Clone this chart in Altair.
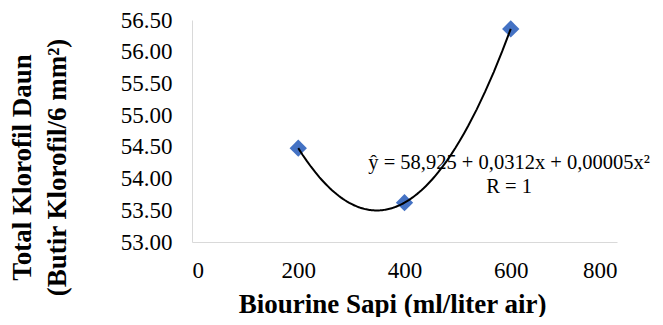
import altair as alt
import pandas as pd

dose = [200, 400, 600]
klorofil = [54.48, 53.62, 56.36]

eq_text = ["ŷ = 58,925 + 0,0312x + 0,00005x²", "R = 1"]

df = pd.DataFrame({"dose": dose, "klorofil": klorofil})
ann = pd.DataFrame({"x": [597], "y": [54.25], "t": ["\n".join(eq_text)]})

FONT = "Liberation Serif"

xs = alt.Scale(domain=[0, 800])
ys = alt.Scale(domain=[53.0, 56.5])

xaxis = alt.Axis(
    values=[0, 200, 400, 600, 800], grid=False, ticks=False,
    domainColor="#D9D9D9", labelFont=FONT, labelFontSize=23, labelColor="#000",
    labelPadding=17, labelOverlap=False,
    title="Biourine Sapi (ml/liter air)", titleFont=FONT,
    titleFontSize=27, titleFontWeight="bold", titleColor="#000",
    titleX=200, titleY=62, titleBaseline="middle",
)
yaxis = alt.Axis(
    values=[53.0, 53.5, 54.0, 54.5, 55.0, 55.5, 56.0, 56.5], format=".2f",
    grid=False, ticks=False, domainColor="#D9D9D9", labelFont=FONT,
    labelFontSize=23, labelColor="#000", labelPadding=20, labelOverlap=False,
    labelBound=False, labelFlush=False,
    title=["Total Klorofil Daun", "(Butir Klorofil/6 mm²)"], titleFont=FONT,
    titleFontSize=27, titleFontWeight="bold", titleColor="#000",
    titleAngle=-90, titleX=-170, titleY=147, titleBaseline="middle",
    titleLineHeight=35, titleAlign="center",
)

base = alt.Chart(df)

pts = base.mark_point(shape="diamond", filled=True, size=300, color="#4472C4", opacity=1).encode(
    x=alt.X("dose:Q", scale=xs, axis=xaxis),
    y=alt.Y("klorofil:Q", scale=ys, axis=yaxis),
)

curve = base.transform_regression(
    "dose", "klorofil", method="poly", order=2, extent=[200, 600]
).mark_line(color="black", strokeWidth=2).encode(
    x=alt.X("dose:Q", scale=xs, axis=xaxis),
    y=alt.Y("klorofil:Q", scale=ys, axis=yaxis),
)

txt = alt.Chart(ann).mark_text(
    font=FONT, fontSize=20.5, color="#000", lineBreak="\n", lineHeight=24,
    align="center", baseline="middle",
).encode(x=alt.X("x:Q", scale=xs, axis=xaxis), y=alt.Y("y:Q", scale=ys, axis=yaxis), text="t:N")

chart = alt.layer(pts, curve, txt).properties(
    width=425, height=222,
    autosize=alt.AutoSizeParams(type="none"),
    padding={"left": 184, "top": 12, "right": 38, "bottom": 75},
).configure_view(stroke=None)

chart.save("out.html", embed_options={"renderer": "svg", "actions": False})
